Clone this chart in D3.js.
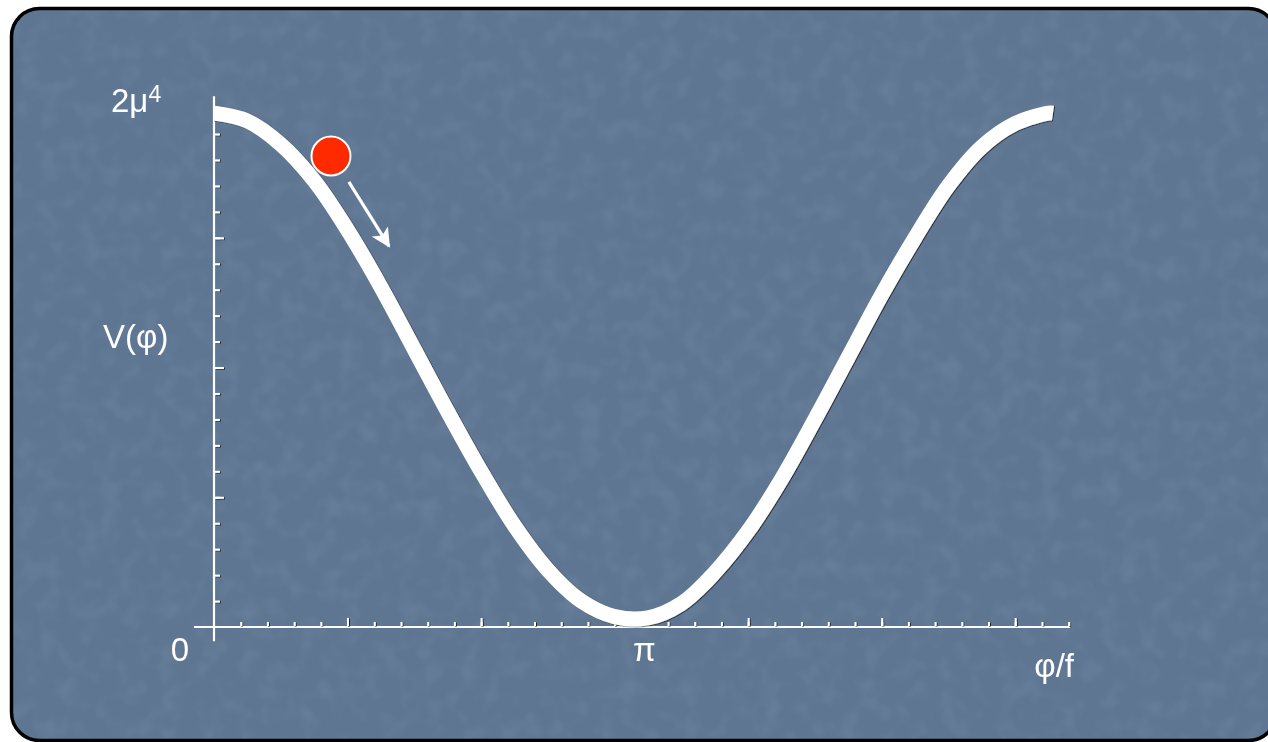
<!DOCTYPE html>
<html>
<head>
<meta charset="utf-8">
<script src="https://cdn.jsdelivr.net/npm/d3@7"></script>
<style>
  html, body { margin: 0; padding: 0; background: #fff; }
  svg { display: block; }
  text { font-family: "Liberation Sans", Arial, Helvetica, sans-serif; fill: #fff; }
</style>
</head>
<body>
<div class="chart"></div>
<script>
// potential V(phi), in units of mu^4, phi/f along x
var phiValues = [0, 0.25, 0.5, 0.75, 1.0, 1.25, 1.5, 1.75, 2.0, 2.25, 2.5, 2.75, 3.0,
                 3.25, 3.5, 3.75, 4.0, 4.25, 4.5, 4.75, 5.0, 5.25, 5.5, 5.75, 6.0, 6.25, 6.283];
var vValues = [1.98, 1.95, 1.86, 1.72, 1.53, 1.31, 1.07, 0.83, 0.60, 0.39, 0.22, 0.10, 0.04,
               0.035, 0.09, 0.21, 0.37, 0.57, 0.80, 1.04, 1.28, 1.50, 1.70, 1.85, 1.94, 1.98, 1.98];

// ball and the arrow showing it rolling down
var ball = {x: 0.876, y: 1.815};
var arrow = {x1: 1.01, y1: 1.715, x2: 1.31, y2: 1.468};

// axis ticks
var xMinorTicks = d3.range(0.2, 6.41, 0.2);
var xMajorTicks = [1, 2, 3, 4, 5, 6];
var yMinorTicks = d3.range(0.1, 2.01, 0.1);
var yMajorTicks = [0.5, 1, 1.5, 2];

// labels
var xLabels = [{v: 0, t: "0"}, {v: Math.PI, t: "π"}];
var xTitle = "φ/f";
var yTitle = "V(φ)";

function wrapper(){

  var w = 1268, h = 742;

  var svg = d3.select("div.chart")
              .append("svg")
              .attr("width", w)
              .attr("height", h);

  var defs = svg.append("defs");

  //soft mottled texture
  var tex = defs.append("filter").attr("id", "tex")
                .attr("x", 0).attr("y", 0).attr("width", "100%").attr("height", "100%");
  tex.append("feTurbulence")
     .attr("type", "fractalNoise")
     .attr("baseFrequency", "0.05")
     .attr("numOctaves", 2)
     .attr("seed", 7)
     .attr("result", "noise");
  tex.append("feColorMatrix")
     .attr("in", "noise")
     .attr("type", "matrix")
     .attr("values", "0 0 0 0 0.42  0 0 0 0 0.53  0 0 0 0 0.66  0 0 0 -1.2 0.7")
     .attr("result", "tint");
  tex.append("feComposite").attr("in", "tint").attr("in2", "SourceGraphic").attr("operator", "in");

  var shadow = defs.append("filter").attr("id", "shadow");
  shadow.append("feDropShadow")
        .attr("dx", 1).attr("dy", 0.6).attr("stdDeviation", 0)
        .attr("flood-color", "#000").attr("flood-opacity", 0.7);

  defs.append("clipPath").attr("id", "frameClip")
      .append("rect")
      .attr("x", 11.5).attr("y", 8.5)
      .attr("width", 1265).attr("height", 732)
      .attr("rx", 28);

  //frame
  svg.append("rect")
     .attr("x", 11.5).attr("y", 8.5)
     .attr("width", 1265).attr("height", 732)
     .attr("rx", 28)
     .attr("fill", "#5e7692");

  svg.append("rect")
     .attr("x", 11.5).attr("y", 8.5)
     .attr("width", 1265).attr("height", 732)
     .attr("clip-path", "url(#frameClip)")
     .attr("fill", "#5e7692")
     .attr("filter", "url(#tex)")
     .attr("opacity", 0.2);

  svg.append("rect")
     .attr("x", 11.5).attr("y", 8.5)
     .attr("width", 1265).attr("height", 732)
     .attr("rx", 28)
     .attr("fill", "none")
     .attr("stroke", "#000")
     .attr("stroke-width", 3.5);

  //scales
  var x = d3.scaleLinear().domain([0, 2 * Math.PI]).range([214, 1053]);
  var y = d3.scaleLinear().domain([0, 2]).range([627, 108]);

  //axis lines
  var axes = svg.append("g").attr("class", "axes");
  axes.append("line")
      .attr("x1", x(-0.15)).attr("x2", x(6.41))
      .attr("y1", y(0)).attr("y2", y(0))
      .attr("stroke", "#fff").attr("stroke-width", 2.2);
  axes.append("line")
      .attr("x1", x(0)).attr("x2", x(0))
      .attr("y1", y(-0.055)).attr("y2", y(2.045))
      .attr("stroke", "#fff").attr("stroke-width", 2.2);

  //ticks
  var ticks = svg.append("g").attr("filter", "url(#shadow)");
  var xMinorAxis = d3.axisTop(x).tickValues(xMinorTicks).tickSize(4).tickFormat("");
  var xMajorAxis = d3.axisTop(x).tickValues(xMajorTicks).tickSize(8).tickFormat("");
  var yMinorAxis = d3.axisRight(y).tickValues(yMinorTicks).tickSize(5).tickFormat("");
  var yMajorAxis = d3.axisRight(y).tickValues(yMajorTicks).tickSize(9).tickFormat("");

  [[xMinorAxis, "translate(0," + (y(0) - 1) + ")"],
   [xMajorAxis, "translate(0," + (y(0) - 1) + ")"],
   [yMinorAxis, "translate(" + (x(0) + 1) + ",0)"],
   [yMajorAxis, "translate(" + (x(0) + 1) + ",0)"]].forEach(function(a){
     var g = ticks.append("g").attr("transform", a[1]).call(a[0]);
     g.select(".domain").remove();
     g.selectAll("line").attr("stroke", "#fff").attr("stroke-width", 2);
  });

  //curve
  var line = d3.line()
               .x(function(d, i){ return x(phiValues[i]); })
               .y(function(d){ return y(d); })
               .curve(d3.curveCatmullRom);

  svg.append("path")
     .datum(vValues)
     .attr("d", line)
     .attr("fill", "none")
     .attr("stroke", "#fff")
     .attr("stroke-width", 15)
     .attr("filter", "url(#shadow)");

  //ball
  svg.append("circle")
     .attr("cx", x(ball.x)).attr("cy", y(ball.y))
     .attr("r", 19.5)
     .attr("fill", "#ff2a00")
     .attr("stroke", "#fff")
     .attr("stroke-width", 2);

  //arrow
  defs.append("marker")
      .attr("id", "head")
      .attr("viewBox", "0 0 10 10")
      .attr("refX", 9).attr("refY", 5)
      .attr("markerWidth", 6).attr("markerHeight", 6)
      .attr("markerUnits", "strokeWidth")
      .attr("orient", "auto")
      .append("path")
      .attr("d", "M0,0 L10,5 L0,10 L2.5,5 Z")
      .attr("fill", "#fff");

  svg.append("line")
     .attr("x1", x(arrow.x1)).attr("y1", y(arrow.y1))
     .attr("x2", x(arrow.x2)).attr("y2", y(arrow.y2))
     .attr("stroke", "#fff")
     .attr("stroke-width", 3.2)
     .attr("marker-end", "url(#head)");

  //labels
  var labels = svg.append("g").attr("font-size", 33);

  labels.selectAll(".xlab")
        .data(xLabels)
        .enter()
        .append("text")
        .attr("class", "xlab")
        .attr("x", function(d){ return d.v === 0 ? x(d.v) - 25 : x(d.v) + 11; })
        .attr("y", 661)
        .attr("text-anchor", function(d){ return d.v === 0 ? "end" : "middle"; })
        .text(function(d){ return d.t; });

  labels.append("text")
        .attr("x", 1074).attr("y", 677)
        .attr("text-anchor", "end")
        .text(xTitle);

  labels.append("text")
        .attr("x", 103).attr("y", 348)
        .text(yTitle);

  var top = labels.append("text")
                  .attr("x", 111).attr("y", 112);
  top.append("tspan").text("2μ");
  top.append("tspan").attr("font-size", 23).attr("dy", -10).text("4");
}
window.onload = wrapper();
</script>
</body>
</html>
